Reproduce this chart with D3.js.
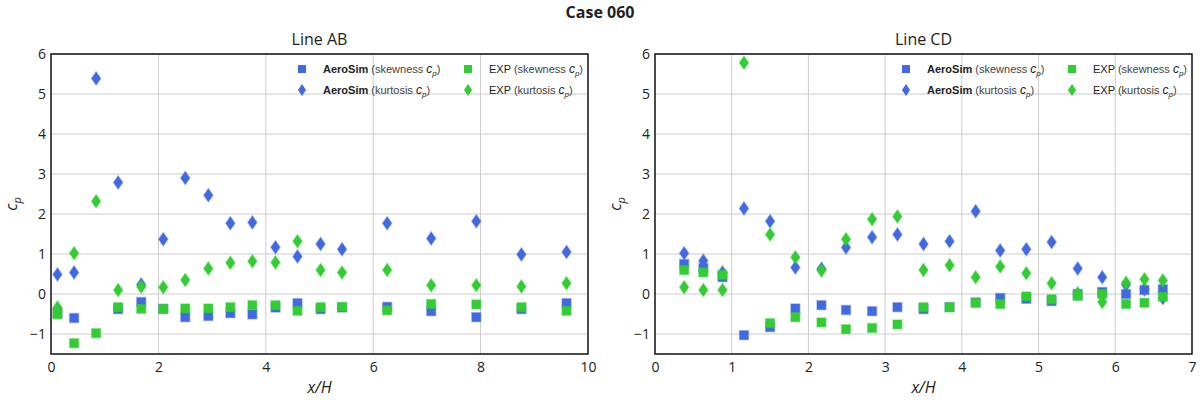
<!DOCTYPE html>
<html>
<head>
<meta charset="utf-8">
<script src="https://cdn.jsdelivr.net/npm/d3@7"></script>
<style>
  html, body { margin: 0; padding: 0; background: #fff; }
  svg { display: block; }
</style>
</head>
<body>
<svg id="chart" width="1200" height="400"></svg>
<script>
// ---------- Data ----------
const abX = [0.12, 0.43, 0.84, 1.25, 1.68, 2.09, 2.50, 2.93, 3.34, 3.75, 4.18, 4.59, 5.02, 5.42, 6.26, 7.08, 7.92, 8.76, 9.60];
const abSimSkew = [-0.47, -0.60, null, -0.38, -0.20, -0.37, -0.58, -0.55, -0.48, -0.51, -0.34, -0.23, -0.38, -0.34, -0.32, -0.43, -0.58, -0.38, -0.23];
const abSimKurt = [0.49, 0.54, 5.39, 2.79, 0.24, 1.37, 2.90, 2.47, 1.77, 1.79, 1.17, 0.94, 1.25, 1.12, 1.77, 1.39, 1.82, 0.99, 1.05];
const abExpSkew = [-0.51, -1.23, -0.98, -0.33, -0.37, -0.37, -0.36, -0.36, -0.33, -0.28, -0.28, -0.42, -0.33, -0.32, -0.41, -0.25, -0.26, -0.33, -0.42];
const abExpKurt = [-0.34, 1.02, 2.32, 0.10, 0.18, 0.17, 0.35, 0.64, 0.78, 0.82, 0.79, 1.32, 0.60, 0.54, 0.60, 0.22, 0.22, 0.19, 0.27];

const cdX = [0.38, 0.63, 0.88, 1.16, 1.50, 1.83, 2.17, 2.49, 2.83, 3.16, 3.50, 3.84, 4.18, 4.50, 4.84, 5.17, 5.51, 5.83, 6.14, 6.38, 6.62];
const cdSimSkew = [0.75, 0.65, 0.42, -1.03, -0.83, -0.36, -0.28, -0.40, -0.43, -0.33, -0.38, -0.33, -0.21, -0.10, -0.12, -0.18, 0.00, 0.05, 0.00, 0.10, 0.12];
const cdSimKurt = [1.02, 0.83, 0.54, 2.14, 1.82, 0.66, 0.63, 1.16, 1.42, 1.49, 1.25, 1.32, 2.07, 1.09, 1.12, 1.30, 0.64, 0.42, 0.23, 0.12, -0.10];
const cdExpSkew = [0.60, 0.54, 0.48, null, -0.73, -0.58, -0.71, -0.88, -0.85, -0.76, -0.33, -0.33, -0.22, -0.25, -0.06, -0.13, -0.05, 0.00, -0.25, -0.22, -0.07];
const cdExpKurt = [0.17, 0.10, 0.10, 5.78, 1.49, 0.92, 0.59, 1.37, 1.87, 1.94, 0.60, 0.72, 0.42, 0.69, 0.52, 0.27, 0.02, -0.20, 0.28, 0.37, 0.34];

const yTicks = [-1, 0, 1, 2, 3, 4, 5, 6];
const abXTicks = [0, 2, 4, 6, 8, 10];
const cdXTicks = [0, 1, 2, 3, 4, 5, 6, 7];

const chartTitle = "Case 060";
const panelTitles = ["Line AB", "Line CD"];

// ---------- Drawing ----------
const svg = d3.select("#chart");
const BLUE = "#4169E1", GREEN = "#32CD32";
const tickFont = "'Open Sans', 'Noto Sans', sans-serif";

svg.append("text")
  .attr("x", 600).attr("y", 18)
  .attr("text-anchor", "middle")
  .attr("font-family", tickFont)
  .attr("font-weight", "bold")
  .attr("font-size", 16)
  .attr("fill", "#222")
  .text(chartTitle);

const panels = [
  { left: 51, right: 588, xDomain: [0, 10], xTicks: abXTicks, title: panelTitles[0],
    x: abX, simSkew: abSimSkew, simKurt: abSimKurt, expSkew: abExpSkew, expKurt: abExpKurt },
  { left: 655, right: 1192, xDomain: [0, 7], xTicks: cdXTicks, title: panelTitles[1],
    x: cdX, simSkew: cdSimSkew, simKurt: cdSimKurt, expSkew: cdExpSkew, expKurt: cdExpKurt }
];

const plotTop = 54, plotBottom = 354;

const squareSym = d3.symbol().type(d3.symbolSquare).size(78);
function diamondPath(w, h) {
  return `M0,${-h/2}L${w/2},0L0,${h/2}L${-w/2},0Z`;
}
const diamondD = diamondPath(9, 13);

panels.forEach(p => {
  const g = svg.append("g");
  const x = d3.scaleLinear().domain(p.xDomain).range([p.left, p.right]);
  const y = d3.scaleLinear().domain([-1.5, 6]).range([plotBottom, plotTop]);

  // grid
  g.append("g").selectAll("line").data(p.xTicks.slice(1, -1)).join("line")
    .attr("x1", d => x(d)).attr("x2", d => x(d))
    .attr("y1", plotTop).attr("y2", plotBottom)
    .attr("stroke", "#cccccc").attr("stroke-width", 1);
  g.append("g").selectAll("line").data(yTicks).join("line")
    .attr("x1", p.left).attr("x2", p.right)
    .attr("y1", d => y(d)).attr("y2", d => y(d))
    .attr("stroke", "#cccccc").attr("stroke-width", 1);

  // axes (labels only)
  const xAxis = g.append("g").attr("transform", `translate(0,${plotBottom})`)
    .call(d3.axisBottom(x).tickValues(p.xTicks).tickSize(0).tickPadding(8).tickFormat(d3.format("d")));
  const yAxis = g.append("g").attr("transform", `translate(${p.left},0)`)
    .call(d3.axisLeft(y).tickValues(yTicks).tickSize(0).tickPadding(5).tickFormat(d => d < 0 ? "\u2212" + Math.abs(d) : d));
  [xAxis, yAxis].forEach(a => {
    a.select(".domain").remove();
    a.selectAll("text").attr("font-family", tickFont).attr("font-size", 14).attr("fill", "#222");
  });

  // markers
  const series = [
    { vals: p.simSkew, color: BLUE, shape: "sq" },
    { vals: p.simKurt, color: BLUE, shape: "di" },
    { vals: p.expSkew, color: GREEN, shape: "sq" },
    { vals: p.expKurt, color: GREEN, shape: "di" }
  ];
  series.forEach(s => {
    const pts = p.x.map((xv, i) => ({ x: xv, y: s.vals[i] })).filter(d => d.y !== null);
    g.append("g").selectAll("path").data(pts).join("path")
      .attr("transform", d => `translate(${x(d.x)},${y(d.y)})`)
      .attr("d", s.shape === "sq" ? squareSym() : diamondD)
      .attr("fill", s.color)
      .attr("stroke", s.color).attr("stroke-opacity", 0.45).attr("stroke-width", 1.5);
  });

  // frame
  g.append("rect")
    .attr("x", p.left).attr("y", plotTop)
    .attr("width", p.right - p.left).attr("height", plotBottom - plotTop)
    .attr("fill", "none").attr("stroke", "#111").attr("stroke-width", 1.5);

  // panel title
  g.append("text")
    .attr("x", (p.left + p.right) / 2).attr("y", 45)
    .attr("text-anchor", "middle")
    .attr("font-family", tickFont).attr("font-size", 16).attr("fill", "#222")
    .text(p.title);

  // x label
  g.append("text")
    .attr("x", (p.left + p.right) / 2).attr("y", 393)
    .attr("text-anchor", "middle")
    .attr("font-family", tickFont).attr("font-size", 16).attr("font-style", "italic").attr("fill", "#222")
    .text("x/H");

  // y label
  const yl = g.append("text")
    .attr("transform", `translate(${p.left - 34},${(plotTop + plotBottom) / 2}) rotate(-90)`)
    .attr("text-anchor", "middle")
    .attr("font-family", tickFont).attr("font-size", 16).attr("fill", "#222");
  yl.append("tspan").attr("font-style", "italic").text("c");
  yl.append("tspan").attr("font-style", "italic").attr("font-size", 11).attr("dy", 4).text("p");

  // legend
  const lx = p.right - 286, ly = 69;
  const legendItems = [
    { col: 0, row: 0, color: BLUE, shape: "sq", bold: "AeroSim", rest: "skewness" },
    { col: 0, row: 1, color: BLUE, shape: "di", bold: "AeroSim", rest: "kurtosis" },
    { col: 1, row: 0, color: GREEN, shape: "sq", bold: null, rest: "skewness" },
    { col: 1, row: 1, color: GREEN, shape: "di", bold: null, rest: "kurtosis" }
  ];
  const lg = g.append("g");
  legendItems.forEach(it => {
    const mx = lx + it.col * 166, my = ly + it.row * 21;
    lg.append("path")
      .attr("transform", `translate(${mx},${my})`)
      .attr("d", it.shape === "sq" ? d3.symbol().type(d3.symbolSquare).size(64)() : diamondPath(8, 12))
      .attr("fill", it.color);
    const t = lg.append("text")
      .attr("x", mx + 21).attr("y", my + 4)
      .attr("font-family", "'Liberation Sans', Arial, sans-serif")
      .attr("font-size", 11).attr("fill", "#222");
    if (it.bold) {
      t.append("tspan").attr("font-weight", "bold").text(it.bold + " ");
    } else {
      t.append("tspan").text("EXP ");
    }
    t.append("tspan").attr("fill", "#444").text("(" + it.rest + " ");
    t.append("tspan").attr("font-style", "italic").attr("font-size", 12).text("c");
    t.append("tspan").attr("font-style", "italic").attr("font-size", 8).attr("dy", 3).text("p");
    t.append("tspan").attr("dy", -3).attr("fill", "#444").text(")");
  });
});
</script>
</body>
</html>
